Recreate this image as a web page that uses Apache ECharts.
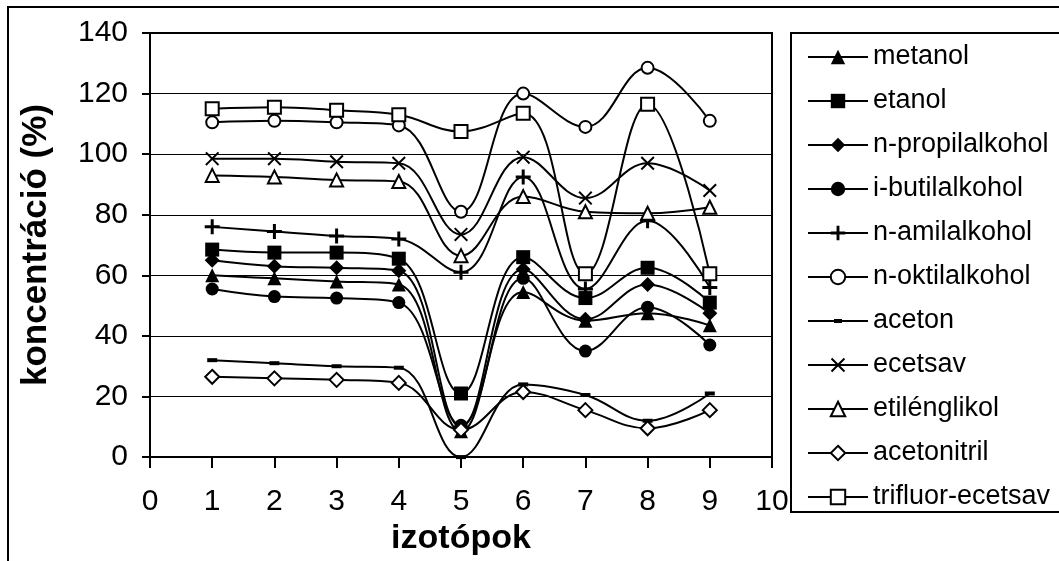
<!DOCTYPE html>
<html>
<head>
<meta charset="utf-8">
<script src="https://cdn.jsdelivr.net/npm/echarts@6/dist/echarts.min.js"></script>
<style>
	body{margin:0;background:#fff;}
	#chart{width:1059px;height:561px;}
</style>
</head>
<body>
<div id="chart"></div>
<script>
//x: izotópok 1..9
var xs = [1, 2, 3, 4, 5, 6, 7, 8, 9];
var metanol = [60, 59, 58, 57, 8.5, 54.5, 45, 47.5, 43.5];
var etanol = [68.5, 67.5, 67.5, 65.5, 21, 66, 52.5, 62.5, 51];
var nPropil = [65, 63, 62.5, 61.5, 10, 62, 45.5, 57, 47.5];
var iButil = [55.5, 53, 52.5, 51, 10.5, 59, 35, 49.5, 37];
var nAmil = [76, 74.5, 73, 72, 61, 92.5, 55.5, 78, 56];
var nOktil = [110.5, 111, 110.5, 109.5, 81, 120, 109, 128.5, 111];
var aceton = [32, 31, 30, 29.5, 0, 24, 20.5, 12, 21];
var ecetsav = [98.5, 98.5, 97.5, 97, 73.5, 99, 85.5, 97, 88];
var etilenglikol = [93, 92.5, 91.5, 91, 66.5, 86, 81, 80.5, 82.5];
var acetonitril = [26.5, 26, 25.5, 24.5, 9, 21.5, 15.5, 9.5, 15.5];
var trifluor = [115, 115.5, 114.5, 113, 107.5, 113.5, 60.5, 116.5, 60.5];
var yTicks = [0, 20, 40, 60, 80, 100, 120, 140];

var FONT = '"Liberation Sans", Arial, sans-serif';
var PLUS = 'path://M4,0H6V10H4Z M0,4H10V6H0Z';
var CROSS = 'path://M0,1L1,0L5,4L9,0L10,1L6,5L10,9L9,10L5,6L1,10L0,9L4,5Z';
//legend icon for aceton: line + small dash
var DASH_ICON = 'path://M0,6H60V8H0Z M26,5H34V9H26Z';

//series: name, data, symbol, size
var list = [
	["metanol", metanol, "triangle", 14],
	["etanol", etanol, "rect", 14],
	["n-propilalkohol", nPropil, "diamond", 15],
	["i-butilalkohol", iButil, "circle", 13],
	["n-amilalkohol", nAmil, PLUS, 15],
	["n-oktilalkohol", nOktil, "emptyCircle", 12],
	["aceton", aceton, "rect", [10, 4]],
	["ecetsav", ecetsav, CROSS, 14],
	["etilénglikol", etilenglikol, "emptyTriangle", 13],
	["acetonitril", acetonitril, "emptyDiamond", 14],
	["trifluor-ecetsav", trifluor, "emptyRect", 13]
];

function pairs(arr){
	var res = [];
	for(var i = 0; i < xs.length; i++){
		res.push([xs[i], arr[i]]);
	}
	return res;
}

var _series = [], _legend = [];
list.forEach(function(e){
	_series.push({
		name: e[0],
		type: 'line',
		data: pairs(e[1]),
		smooth: 0.4,
		clip: false,
		symbol: e[2],
		symbolSize: e[3],
		showSymbol: true,
		lineStyle: {color: '#000', width: 2},
		itemStyle: {color: '#000', borderColor: '#000', borderWidth: e[2].indexOf('empty') == 0 ? 2 : 0},
		emphasis: {disabled: true}
	});
	if (e[0] == "aceton") {
		_legend.push({name: e[0], icon: DASH_ICON});
	} else {
		_legend.push({name: e[0]});
	}
});

var myChart = echarts.init(document.getElementById('chart'), null, {renderer: 'canvas'});
myChart.setOption({
	animation: false,
	backgroundColor: '#fff',
	textStyle: {fontFamily: FONT, color: '#000'},
	grid: {
		left: 150,
		top: 33,
		width: 622,
		height: 425,
		show: true,
		borderColor: '#000',
		borderWidth: 2,
		backgroundColor: 'transparent'
	},
	xAxis: {
		type: 'value',
		min: 0,
		max: 10,
		interval: 1,
		name: 'izotópok',
		nameLocation: 'middle',
		nameGap: 52,
		nameTextStyle: {fontFamily: FONT, fontSize: 34, fontWeight: 'bold', color: '#000'},
		axisLine: {lineStyle: {color: '#000', width: 2}},
		axisTick: {length: 11, lineStyle: {color: '#000', width: 2}},
		axisLabel: {fontFamily: FONT, fontSize: 30, color: '#000', margin: 30},
		splitLine: {show: false}
	},
	yAxis: {
		type: 'value',
		min: yTicks[0],
		max: yTicks[yTicks.length - 1],
		interval: 20,
		name: 'koncentráció (%)',
		nameLocation: 'middle',
		nameGap: 96,
		nameRotate: 90,
		nameTextStyle: {fontFamily: FONT, fontSize: 35, fontWeight: 'bold', color: '#000'},
		axisLine: {show: true, lineStyle: {color: '#000', width: 2}},
		axisTick: {show: true, length: 8, lineStyle: {color: '#000', width: 2}},
		axisLabel: {fontFamily: FONT, fontSize: 30, color: '#000', margin: 22},
		splitLine: {show: true, lineStyle: {color: '#000', width: 1}}
	},
	legend: {
		orient: 'vertical',
		left: 802,
		top: 37,
		itemWidth: 60,
		itemHeight: 18,
		itemGap: 14,
		lineStyle: {width: 2},
		textStyle: {fontFamily: FONT, fontSize: 27, color: '#000', lineHeight: 30},
		data: _legend
	},
	graphic: [
		//outer frame
		{type: 'rect', shape: {x: 8, y: 7, width: 1100, height: 600}, style: {fill: 'none', stroke: '#000', lineWidth: 2}, z: -1},
		//legend frame
		{type: 'rect', shape: {x: 791, y: 33, width: 300, height: 479}, style: {fill: 'none', stroke: '#000', lineWidth: 2}}
	],
	series: _series
});
</script>
</body>
</html>
